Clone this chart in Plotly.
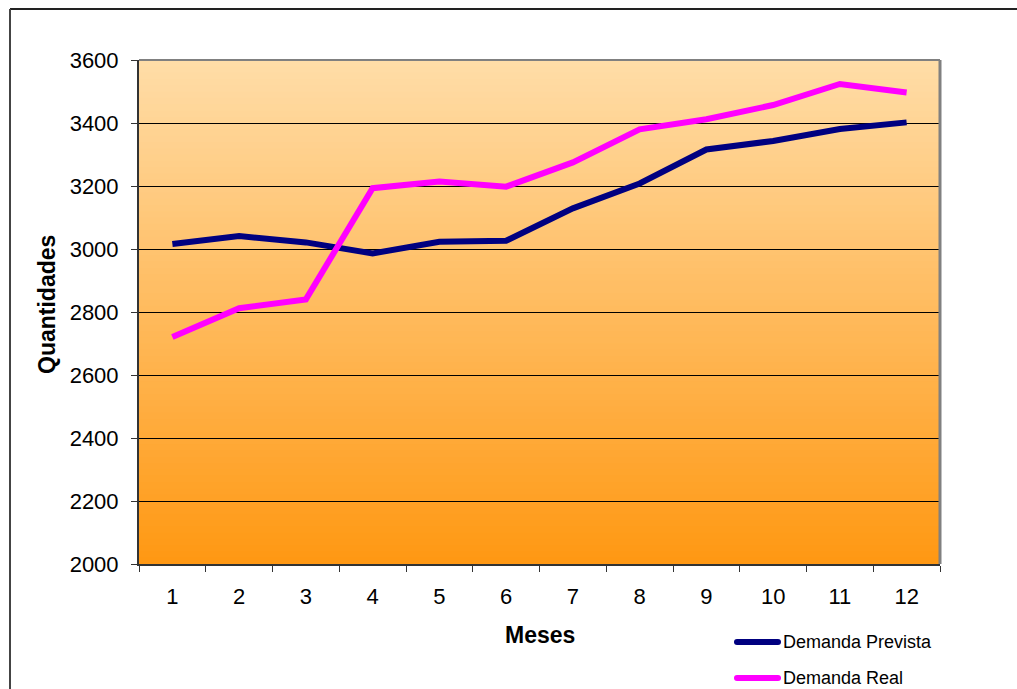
import plotly.graph_objects as go

meses = ["1", "2", "3", "4", "5", "6", "7", "8", "9", "10", "11", "12"]
demanda_prevista = [3016, 3041, 3021, 2986, 3023, 3026, 3129, 3208, 3316, 3343, 3381, 3402]
demanda_real = [2721, 2812, 2840, 3193, 3214, 3198, 3275, 3380, 3412, 3457, 3524, 3497]
y_ticks = [2000, 2200, 2400, 2600, 2800, 3000, 3200, 3400, 3600]
series_names = ["Demanda Prevista", "Demanda Real"]
series_colors = ["#000080", "#FF00FF"]

W, H = 1017, 689
L, R, T, B = 139, 940, 60, 564
FONT = "Liberation Sans, Arial"

fig = go.Figure()
for name, vals, col in zip(series_names, [demanda_prevista, demanda_real], series_colors):
    fig.add_trace(go.Scatter(x=meses, y=vals, mode="lines", name=name,
                             line=dict(color=col, width=6), showlegend=False))

px = lambda v: (v - L) / (R - L)
py = lambda v: (B - v) / (B - T)

# gradient background strips
top_c = (255, 221, 168)
bot_c = (255, 152, 18)
n = 80
shapes = []
for i in range(n):
    f = i / n
    c = tuple(round(bot_c[k] + (top_c[k] - bot_c[k]) * (f + 0.5 / n)) for k in range(3))
    shapes.append(dict(type="rect", xref="x domain", yref="y domain", x0=0, x1=1,
                       y0=f, y1=(i + 1) / n + 0.002, line=dict(width=0),
                       fillcolor="rgb(%d,%d,%d)" % c, layer="below"))
# plot border top/right
shapes.append(dict(type="line", xref="x domain", yref="y domain", x0=0, x1=1, y0=1, y1=1,
                   line=dict(color="#808080", width=2)))
shapes.append(dict(type="line", xref="x domain", yref="y domain", x0=1, x1=1, y0=0, y1=1,
                   line=dict(color="#808080", width=3)))
# outer frame
shapes.append(dict(type="line", xref="paper", yref="paper", x0=px(10), x1=px(1020), y0=py(9), y1=py(9),
                   line=dict(color="#222222", width=2)))
shapes.append(dict(type="line", xref="paper", yref="paper", x0=px(10), x1=px(10), y0=py(9), y1=py(700),
                   line=dict(color="#444444", width=2)))

annotations = [
    dict(text="<b>Quantidades</b>", xref="paper", yref="paper", x=px(47), y=py(305),
         xanchor="center", yanchor="middle",
         showarrow=False, textangle=-90, font=dict(family=FONT, size=23, color="black")),
    dict(text="<b>Meses</b>", xref="paper", yref="paper", x=px(540), y=py(635),
         xanchor="center", yanchor="middle",
         showarrow=False, font=dict(family=FONT, size=23, color="black")),
]

# legend (drawn manually so it can sit at the very bottom edge)
for i, (name, col) in enumerate(zip(series_names, series_colors)):
    yy = 642 + 36 * i
    shapes.append(dict(type="line", xref="paper", yref="paper", x0=px(737), x1=px(778),
                       y0=py(yy), y1=py(yy), line=dict(color=col, width=6)))
    shapes.append(dict(type="circle", xref="paper", yref="paper", x0=px(734), x1=px(740),
                       y0=py(yy + 3), y1=py(yy - 3), line=dict(width=0), fillcolor=col))
    shapes.append(dict(type="circle", xref="paper", yref="paper", x0=px(775), x1=px(781),
                       y0=py(yy + 3), y1=py(yy - 3), line=dict(width=0), fillcolor=col))
    annotations.append(dict(text=name, xref="paper", yref="paper", x=px(781), y=py(yy),
                            xanchor="left", yanchor="middle", showarrow=False,
                            font=dict(family=FONT, size=18, color="black")))

fig.update_layout(
    width=W, height=H,
    margin=dict(l=L, r=W - R, t=T, b=H - B, pad=0),
    paper_bgcolor="white", plot_bgcolor="white",
    font=dict(family=FONT, size=22, color="black"),
    shapes=shapes, annotations=annotations,
    showlegend=False,
)
fig.update_xaxes(type="category", range=[-0.5, 11.5], tickson="boundaries",
                 ticks="outside", ticklen=6, tickcolor="#333333", showgrid=False,
                 showline=True, linecolor="#333333", linewidth=2, ticklabelstandoff=12,
                 zeroline=False)
fig.update_yaxes(range=[2000, 3600], tickvals=y_ticks, ticks="outside", ticklen=6,
                 tickcolor="#333333", showgrid=True, gridcolor="black", gridwidth=1,
                 showline=True, linecolor="#333333", linewidth=2, ticklabelstandoff=8,
                 zeroline=False)

fig.write_html("out.html")
